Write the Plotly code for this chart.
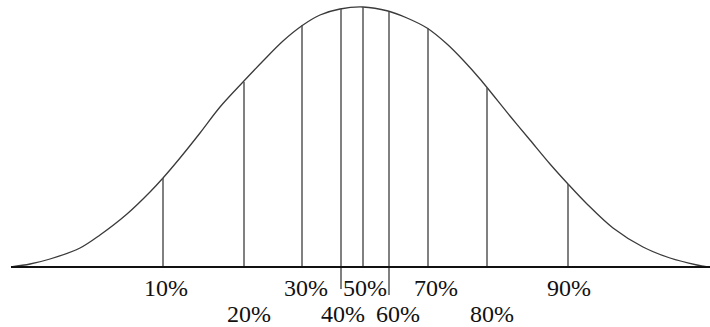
import plotly.graph_objects as go

# Bell curve outline (x position, height above baseline)
curve_x = [11, 30, 50, 80, 100, 127, 150, 163, 180, 200, 220, 243, 263, 283, 303,
           320, 340, 363, 388, 407, 427, 447, 463, 480, 510, 530, 550, 568, 587,
           613, 643, 670, 697, 708]
curve_y = [0, 3, 8, 19, 32, 53, 75, 89, 109, 134, 160, 185, 206, 226, 242,
           252, 258, 260, 256, 249, 239, 223, 207, 188, 151, 127, 103, 83, 63,
           39, 20, 9, 2, 0]

# Percentile markers
pct_labels = ["10%", "20%", "30%", "40%", "50%", "60%", "70%", "80%", "90%"]
pct_x = [163, 244, 302, 341, 363, 389, 428, 487, 568]
pct_top = [89, 185, 242, 258, 260, 255, 239, 179, 83]
pct_bottom = [0, 0, 0, -22, 0, -28, 0, 0, 0]
label_x = [166, 249, 306, 343, 365, 398, 436, 492, 569]
label_row = [0, 1, 0, 1, 0, 1, 0, 1, 0]

baseline_x = [11, 710]

fig = go.Figure()

fig.add_trace(go.Scatter(
    x=curve_x, y=curve_y, mode="lines",
    line=dict(color="#3a3a3a", width=1.3, shape="spline", smoothing=0.9),
    hoverinfo="skip", showlegend=False,
))

for xv, top, bot in zip(pct_x, pct_top, pct_bottom):
    fig.add_trace(go.Scatter(
        x=[xv, xv], y=[bot, top], mode="lines",
        line=dict(color="#4a4a4a", width=1.4),
        hoverinfo="skip", showlegend=False,
    ))

fig.add_trace(go.Scatter(
    x=baseline_x, y=[0, 0], mode="lines",
    line=dict(color="#111111", width=2),
    hoverinfo="skip", showlegend=False,
))

row_y = [-21, -47]
for lab, lx, r in zip(pct_labels, label_x, label_row):
    fig.add_annotation(
        x=lx, y=row_y[r], text=lab, showarrow=False,
        xanchor="center", yanchor="middle",
        font=dict(family="Liberation Serif, Times New Roman, serif", size=24, color="#111111"),
    )

fig.update_layout(
    width=710, height=327,
    margin=dict(l=0, r=0, t=0, b=0),
    paper_bgcolor="white", plot_bgcolor="white",
    xaxis=dict(range=[0, 710], visible=False, fixedrange=True),
    yaxis=dict(range=[-60, 267], visible=False, fixedrange=True),
)

fig.write_html(
    "out.html",
    config={"displayModeBar": False},
    post_script="document.body.style.margin='0';document.body.style.overflow='hidden';",
)
